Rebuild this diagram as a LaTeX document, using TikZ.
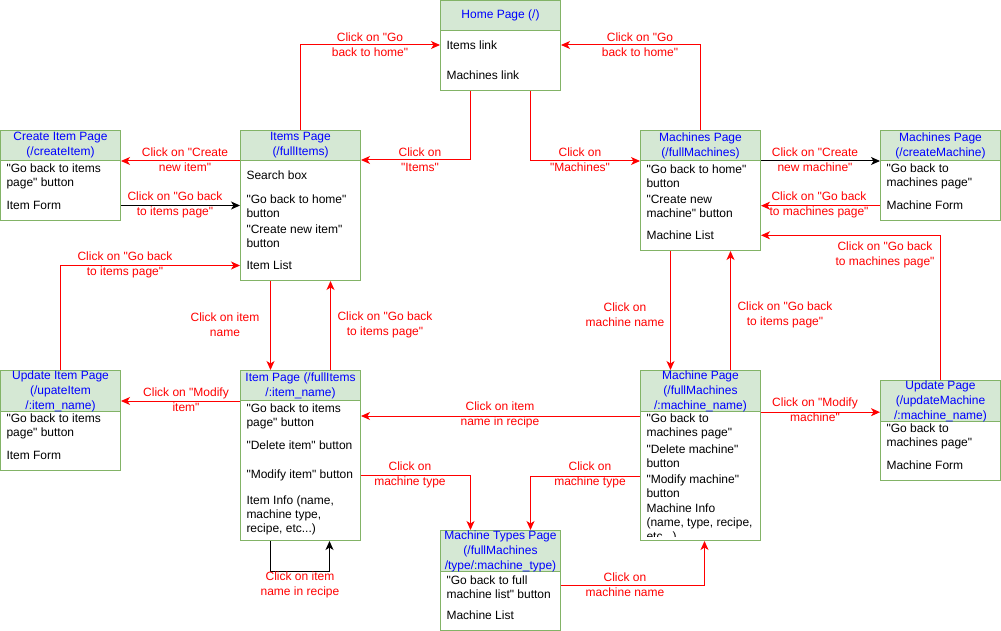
\documentclass[tikz,border=0pt]{standalone}
\usepackage{fontspec}
\setmainfont{Liberation Sans}[Ligatures=TeXOff]
\usetikzlibrary{arrows.meta,calc}
\definecolor{gfill}{HTML}{D5E8D4}
\definecolor{gline}{HTML}{82B366}
\definecolor{tblue}{HTML}{0000FF}
\definecolor{tred}{HTML}{FF0000}
\begin{document}
\begin{tikzpicture}[x=1pt,y=-1pt,line width=1pt,
  box/.style={draw=gline,fill=white,anchor=north west,minimum width=120pt,inner sep=0pt},
  head/.style={draw=gline,fill=gfill,anchor=north west,minimum width=120pt,inner sep=0pt,text=tblue,align=center,font=\fontsize{12}{15}\selectfont},
  item/.style={anchor=west,align=left,inner sep=0pt,font=\fontsize{12}{14}\selectfont},
  lbl/.style={text=tred,align=center,inner sep=0pt,font=\fontsize{12}{15}\selectfont},
  ra/.style={draw=tred,-{Stealth[length=9pt,width=8pt,inset=2.5pt]}},
  ba/.style={draw=black,-{Stealth[length=9pt,width=8pt,inset=2.5pt]}}]
\useasboundingbox (0,0) rectangle (1001,631);

% ---------- pages ----------
\node[box,minimum height=90pt] (home) at (440,0) {};
\node[head,minimum height=30pt] (homeh) at (440,0) {Home Page (/)};
\node[item] (hItems) at (446,45) {Items link};
\node[item] (hMach) at (446,75) {Machines link};

\node[box,minimum height=90pt] (citem) at (0,130) {};
\node[head,minimum height=30pt] (citemh) at (0,130) {Create Item Page\\(/createItem)};
\node[item] (ciBack) at (6,176.5) {"Go back to items\\page" button};
\node[item] (ciForm) at (6,205.5) {Item Form};

\node[box,minimum height=150pt] (items) at (240,130) {};
\node[head,minimum height=30pt] (itemsh) at (240,130) {Items Page\\(/fullItems)};
\node[item] (iSearch) at (246,175.3) {Search box};
\node[item] (iHome) at (246,206.7) {"Go back to home"\\button};
\node[item] (iNew) at (246,236.7) {"Create new item"\\button};
\node[item] (iList) at (246,265.5) {Item List};

\node[box,minimum height=120pt] (machs) at (640,130) {};
\node[head,minimum height=30pt] (machsh) at (640,130) {Machines Page\\(/fullMachines)};
\node[item] (msHome) at (646,176.7) {"Go back to home"\\button};
\node[item] (msNew) at (646,206.7) {"Create new\\machine" button};
\node[item] (msList) at (646,235.3) {Machine List};

\node[box,minimum height=90pt] (cmach) at (880,130) {};
\node[head,minimum height=30pt] (cmachh) at (880,130) {Machines Page\\(/createMachine)};
\node[item] (cmBack) at (886,176.7) {"Go back to\\machines page"};
\node[item] (cmForm) at (886,205.7) {Machine Form};

\node[box,minimum height=100pt] (uitem) at (0,370) {};
\node[head,minimum height=40pt] (uitemh) at (0,370) {Update Item Page\\(/upateItem\\/:item\_name)};
\node[item] (uiBack) at (6,426.7) {"Go back to items\\page" button};
\node[item] (uiForm) at (6,455.5) {Item Form};

\node[box,minimum height=170pt] (item) at (240,370) {};
\node[head,minimum height=30pt] (itemh) at (240,370) {Item Page (/fullItems\\/:item\_name)};
\node[item] (itBack) at (246,416.7) {"Go back to items\\page" button};
\node[item] (itDel) at (246,445.7) {"Delete item" button};
\node[item] (itMod) at (246,475.7) {"Modify item" button};
\node[item] (itInfo) at (246,515) {Item Info (name,\\machine type,\\recipe, etc...)};

\node[box,minimum height=170pt] (mach) at (640,370) {};
\node[head,minimum height=40pt] (machh) at (640,370) {Machine Page\\(/fullMachines\\/:machine\_name)};
\node[item] (mBack) at (646,426.7) {"Go back to\\machines page"};
\node[item] (mDel) at (646,456.7) {"Delete machine"\\button};
\node[item] (mMod) at (646,486.7) {"Modify machine"\\button};
\begin{scope}
\clip (640,410) rectangle (760,536);
\node[item] (mInfo) at (646,523.7) {Machine Info\\(name, type, recipe,\\etc...)};
\end{scope}

\node[box,minimum height=100pt] (umach) at (880,380) {};
\node[head,minimum height=40pt] (umachh) at (880,380) {Update Page\\(/updateMachine\\/:machine\_name)};
\node[item] (umBack) at (886,436.7) {"Go back to\\machines page"};
\node[item] (umForm) at (886,465.7) {Machine Form};

\node[box,minimum height=100pt] (mtype) at (440,530) {};
\node[head,minimum height=40pt] (mtypeh) at (440,530) {Machine Types Page\\(/fullMachines\\/type/:machine\_type)};
\node[item] (mtBack) at (446,587) {"Go back to full\\machine list" button};
\node[item] (mtList) at (446,615.7) {Machine List};

% ---------- connectors ----------
\draw[ra] (itemsh.north) |- (home.west |- hItems.west);
\draw[ra] (machsh.north) |- (home.east |- hItems.west);
\draw[ra] ($(home.south)+(-30,0)$) |- ($(itemsh.south east)+(0,-1)$);
\draw[ra] ($(home.south)+(30,0)$) |- (machsh.south west);
\draw[ra] (itemsh.south west) -- (citemh.south east);
\draw[ba] (citem.east |- ciForm.west) -- (items.west |- ciForm.west);
\draw[ra] (uitemh.north) |- (items.west |- iList.west);
\draw[ra] ($(items.south)+(-30,0)$) -- ($(itemh.north)+(-30,0)$);
\draw[ra] ($(itemh.north)+(30,0)$) -- ($(items.south)+(30,0)$);
\draw[ra] (itemh.south west) -- (uitem.east |- itemh.south);
\draw[ba] ($(item.south)+(-30,0)$) -- ++(0,30) -| ($(item.south)+(29,0)$);
\draw[ra] (item.east |- itMod.west) -| ($(mtypeh.north)+(-30,0)$);
\draw[ra] ($(mach.north west)+(0,46)$) -- ($(item.north east)+(0,46)$);
\draw[ra] ($(mach.north west)+(0,106)$) -| ($(mtypeh.north)+(30,0)$);
\draw[ra] ($(mtype.north east)+(0,55)$) -| ($(mach.south)+(4,0)$);
\draw[ra] ($(machs.south)+(-30,0)$) -- ($(machh.north)+(-30,0)$);
\draw[ra] ($(machh.north)+(30,0)$) -- ($(machs.south)+(30,0)$);
\draw[ba] (machsh.south east) -- (cmachh.south west);
\draw[ra] (cmach.west |- cmForm.west) -- (machs.east |- cmForm.west);
\draw[ra] (umachh.north) |- (machs.east |- msList.west);
\draw[ra] (machh.south east) -- (umach.west |- machh.south);

% ---------- labels ----------
\node[lbl] (l1) at (370,45) {Click on "Go\\back to home"};
\node[lbl] (l2) at (640,45) {Click on "Go\\back to home"};
\node[lbl] (l3) at (420,160) {Click on\\"Items"};
\node[lbl] (l4) at (580,160) {Click on\\"Machines"};
\node[lbl] (l5) at (185,160) {Click on "Create\\new item"};
\node[lbl] (l6) at (175,205) {Click on "Go back\\to items page"};
\node[lbl] (l7) at (125,265) {Click on "Go back\\to items page"};
\node[lbl] (l8) at (225,325) {Click on item\\name};
\node[lbl] (l9) at (385,325) {Click on "Go back\\to items page"};
\node[lbl] (l10) at (186,400) {Click on "Modify\\item"};
\node[lbl] (l11) at (300,585) {Click on item\\name in recipe};
\node[lbl] (l12) at (410,475) {Click on\\machine type};
\node[lbl] (l13) at (500,415) {Click on item\\name in recipe};
\node[lbl] (l14) at (590,475) {Click on\\machine type};
\node[lbl] (l15) at (625,585) {Click on\\machine name};
\node[lbl] (l16) at (625,315) {Click on\\machine name};
\node[lbl] (l17) at (785,315) {Click on "Go back\\to items page"};
\node[lbl] (l18) at (815,160) {Click on "Create\\new machine"};
\node[lbl] (l19) at (819,205) {Click on "Go back\\to machines page"};
\node[lbl] (l20) at (885,255) {Click on "Go back\\to machines page"};
\node[lbl] (l21) at (815,410) {Click on "Modify\\machine"};
\end{tikzpicture}
\end{document}
